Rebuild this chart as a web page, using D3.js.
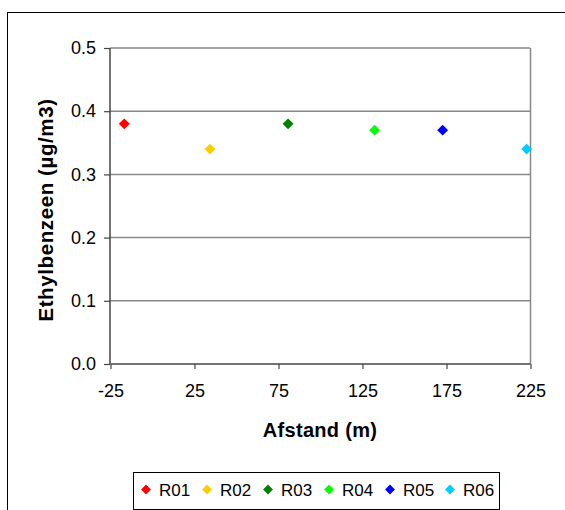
<!DOCTYPE html>
<html><head><meta charset="utf-8">
<script src="https://cdn.jsdelivr.net/npm/d3@7"></script>
<style>body{margin:0;background:#fff}svg{display:block;font-family:"Liberation Sans",Arial,sans-serif}</style>
</head><body>
<svg id="c" width="565" height="510"></svg>
<script>
const names = ["R01","R02","R03","R04","R05","R06"];
const distances = [-16.5, 34.5, 81, 132.5, 173, 223];
const values = [0.38, 0.34, 0.38, 0.37, 0.37, 0.34];
const colors = ["#ff0000","#ffcc00","#008000","#00ff00","#0000ff","#00ccff"];
const xTicks = [-25, 25, 75, 125, 175, 225];
const yTicks = [0, 0.1, 0.2, 0.3, 0.4, 0.5];

const svg = d3.select("#c");
svg.append("rect").attr("x",7.5).attr("y",12.5).attr("width",700).attr("height",700)
  .attr("fill","none").attr("stroke","#000").attr("stroke-width",1);

const L=110, R=530, T=48, B=364;
const x = d3.scaleLinear().domain([-25,225]).range([L,R]);
const y = d3.scaleLinear().domain([0,0.5]).range([B,T]);

// gridlines
svg.append("g").selectAll("line").data(yTicks.filter(d=>d>0)).join("line")
  .attr("x1",L).attr("x2",R).attr("y1",d=>y(d)).attr("y2",d=>y(d))
  .attr("stroke","#888").attr("stroke-width",1.5);
svg.append("line").attr("x1",R+0.5).attr("x2",R+0.5).attr("y1",T).attr("y2",B)
  .attr("stroke","#888").attr("stroke-width",1.5);

// axes
const yAxis = svg.append("g").attr("transform",`translate(${L},0)`)
  .call(d3.axisLeft(y).tickValues(yTicks).tickFormat(d3.format(".1f")).tickSize(6).tickPadding(8));
const xAxis = svg.append("g").attr("transform",`translate(0.5,${B})`)
  .call(d3.axisBottom(x).tickValues(xTicks).tickFormat(d=>String(d)).tickSize(5).tickPadding(15));
[yAxis,xAxis].forEach(g=>{
  g.select(".domain").attr("stroke","#444").attr("stroke-width",1.5);
  g.selectAll(".tick line").attr("stroke","#444").attr("stroke-width",1.2);
  g.selectAll("text").attr("font-size",18).attr("fill","#000").attr("font-family","Liberation Sans, Arial, sans-serif");
});
yAxis.select(".domain").attr("d",`M0,${T}V${B}`);
xAxis.select(".domain").attr("d",`M${L},0H${R}`);

// points
const diamond = d3.symbol().type(d3.symbolDiamond2).size(76);
svg.append("g").selectAll("path").data(names).join("path")
  .attr("d",diamond)
  .attr("transform",(d,i)=>`translate(${x(distances[i])},${y(values[i])})`)
  .attr("fill",(d,i)=>colors[i]);

// titles
svg.append("text").attr("x",320).attr("y",437).attr("text-anchor","middle")
  .attr("font-size",20).attr("letter-spacing",0.3).attr("font-weight","bold").text("Afstand (m)");
svg.append("text").attr("transform",`translate(53,210) rotate(-90)`).attr("text-anchor","middle")
  .attr("font-size",20.5).attr("letter-spacing",0.6).attr("font-weight","bold").text("Ethylbenzeen (µg/m3)");

// legend
svg.append("rect").attr("x",133.5).attr("y",472.5).attr("width",366).attr("height",37)
  .attr("fill","none").attr("stroke","#000").attr("stroke-width",1);
const legX = [146, 207, 268, 329, 390, 450];
const lg = svg.append("g").selectAll("g").data(names).join("g")
  .attr("transform",(d,i)=>`translate(${legX[i]},489.5)`);
lg.append("path").attr("d",d3.symbol().type(d3.symbolDiamond2).size(62)).attr("fill",(d,i)=>colors[i]);
lg.append("text").attr("x",13).attr("y",6).attr("font-size",17).text(d=>d);
</script>
</body></html>
